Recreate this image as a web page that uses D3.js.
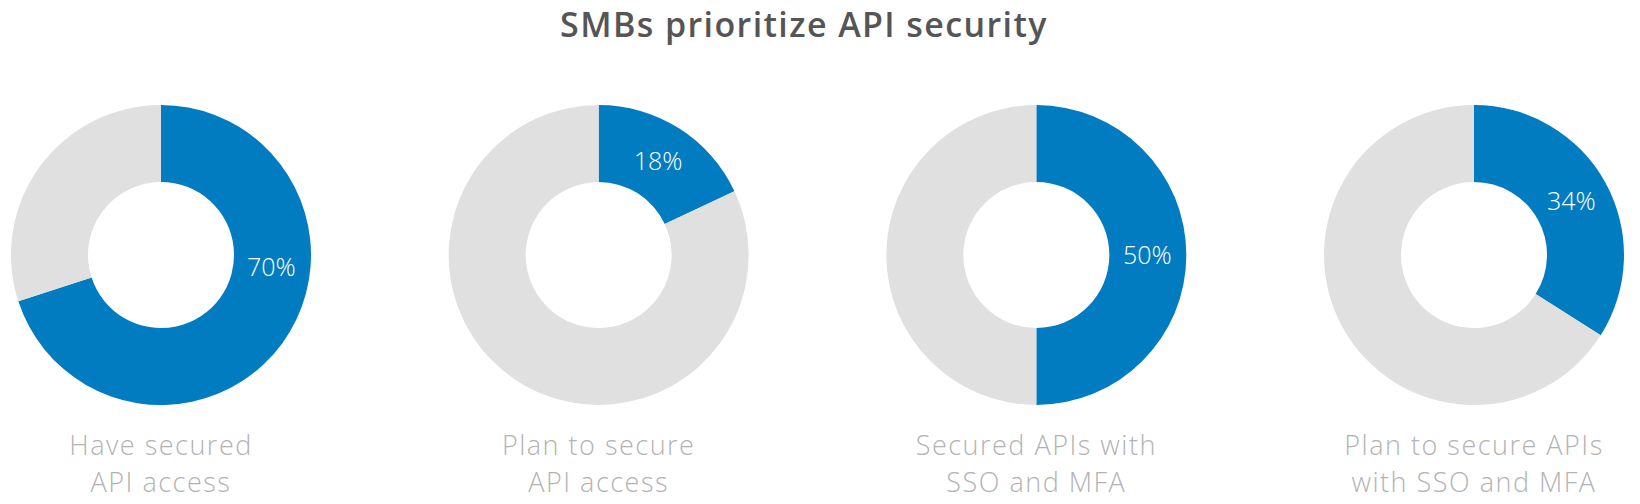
<!DOCTYPE html>
<html>
<head>
<meta charset="utf-8">
<script src="https://cdn.jsdelivr.net/npm/d3@7"></script>
<style>
  html, body { margin: 0; padding: 0; background: #fff; }
  svg { display: block; }
</style>
</head>
<body>
<div id="chart"></div>
<script>
(function() {

    // Chart data
    const title = "SMBs prioritize API security";
    const categories = ["secured_access", "plan_access", "secured_sso", "plan_sso"];
    const labels = [
        ["Have secured", "API access"],
        ["Plan to secure", "API access"],
        ["Secured APIs with", "SSO and MFA"],
        ["Plan to secure APIs", "with SSO and MFA"]
    ];
    const values = [70, 18, 50, 34];

    const width = 1640;
    const height = 504;
    const cy = 255;
    const outerR = 150;
    const innerR = 73;
    const labelR = 111;

    const blue = "#027cc1";
    const grey = "#e0e0e0";
    const font = "'Open Sans', Lato, sans-serif";

    const svg = d3.select("#chart").append("svg")
        .attr("width", width)
        .attr("height", height);

    // Column positions
    const x = d3.scalePoint()
        .domain(categories)
        .range([161, 1474]);

    // Title
    svg.append("text")
        .attr("x", 804)
        .attr("y", 37)
        .attr("text-anchor", "middle")
        .attr("font-family", font)
        .attr("font-weight", 600)
        .attr("font-size", 34)
        .attr("letter-spacing", 1.4)
        .attr("fill", "#555555")
        .text(title);

    const pie = d3.pie()
        .sort(null)
        .value(d => d);

    const arc = d3.arc()
        .innerRadius(innerR)
        .outerRadius(outerR);

    categories.forEach(function(cat, i) {
        const g = svg.append("g")
            .attr("transform", "translate(" + x(cat) + "," + cy + ")");

        const slices = pie([values[i], 100 - values[i]]);

        g.selectAll("path")
            .data(slices)
            .enter().append("path")
            .attr("d", arc)
            .attr("fill", (d, j) => j === 0 ? blue : grey);

        // Percent label sits at the middle of the blue arc, kept in the right half
        const s = slices[0];
        const mid = Math.min((s.startAngle + s.endAngle) / 2, Math.PI * 0.536);
        g.append("text")
            .attr("x", labelR * Math.sin(mid))
            .attr("y", -labelR * Math.cos(mid))
            .attr("dy", "0.35em")
            .attr("text-anchor", "middle")
            .attr("font-family", font)
            .attr("font-weight", 300)
            .attr("font-size", 25)
            .attr("fill", "#ffffff")
            .text(values[i] + "%");

        // Category label under the donut
        const t = svg.append("text")
            .attr("x", x(cat))
            .attr("y", 455)
            .attr("text-anchor", "middle")
            .attr("font-family", font)
            .attr("font-weight", 300)
            .attr("font-size", 27)
            .attr("letter-spacing", 1.5)
            .attr("fill", "#b3b3b3");

        labels[i].forEach(function(line, k) {
            t.append("tspan")
                .attr("x", x(cat))
                .attr("dy", k === 0 ? 0 : 37)
                .text(line);
        });
    });

})();
</script>
</body>
</html>
